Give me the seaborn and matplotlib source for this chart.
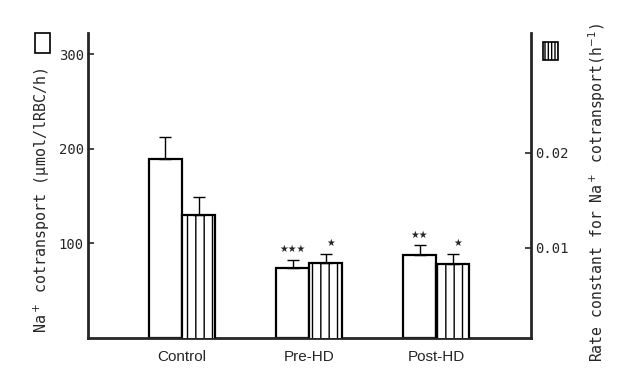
import numpy as np
import pandas as pd
import matplotlib
matplotlib.use("Agg")
import matplotlib.pyplot as plt
from matplotlib.patches import Rectangle
import seaborn as sns

groups = ["Control", "Pre-HD", "Post-HD"]
transport = [189, 74, 88]          # umol/lRBC/h
transport_sem = [24, 9, 10]
rate = [0.0135, 0.0084, 0.0083]    # h^-1
rate_sem = [0.0018, 0.0010, 0.0011]
transport_stars = ["", "\u2605\u2605\u2605", "\u2605\u2605"]
rate_stars = ["", "\u2605", "\u2605"]
series_order = ["transport", "rate"]

sns.set_style("ticks")
plt.rcParams["font.family"] = ["Liberation Sans", "DejaVu Sans"]
plt.rcParams["hatch.linewidth"] = 1.0
mono = "DejaVu Sans Mono"

fig = plt.figure(figsize=(6.33, 3.70), dpi=100)
ax = fig.add_axes([0.139, 0.0865, 0.700, 0.825])
ax2 = ax.twinx()

df = pd.concat([
    pd.DataFrame({"group": groups, "value": transport, "series": "transport"}),
    pd.DataFrame({"group": groups, "value": rate, "series": "rate"}),
], ignore_index=True)
pal = {"transport": "white", "rate": "white"}

# draw the full dodged layout on both axes, then keep only the series that
# belongs to each axis (left bar of a pair = transport, right bar = rate)
for axis, keep in [(ax, 0), (ax2, 1)]:
    sns.barplot(data=df, x="group", y="value", hue="series", hue_order=series_order,
                order=groups, width=0.52, gap=0, palette=pal, edgecolor="black",
                linewidth=1.6, errorbar=None, legend=False, saturation=1, ax=axis)
    bars = sorted(axis.patches, key=lambda p: p.get_x())
    for i, p in enumerate(bars):
        if i % 2 != keep:
            p.remove()

for p in ax2.patches:
    p.set_hatch("||")

# error bars (upper only) and significance stars
for axis, sems, stars, dx in [(ax, transport_sem, transport_stars, 0),
                              (ax2, rate_sem, rate_stars, 4)]:
    bars = sorted(axis.patches, key=lambda p: p.get_x())
    for p, sem, st in zip(bars, sems, stars):
        x = p.get_x() + p.get_width() / 2
        h = p.get_height()
        axis.errorbar(x, h, yerr=[[0], [sem]], fmt="none", ecolor="black",
                      elinewidth=1.0, capsize=4, capthick=1.0)
        if st:
            axis.annotate(st, (x, h + sem), xytext=(dx, 4), textcoords="offset points",
                          ha="center", va="bottom", fontsize=7, family="DejaVu Sans")

ax.set_ylim(0, 323)
ax.set_yticks([100, 200, 300])
ax2.set_ylim(0.00053, 0.0326)
ax2.set_yticks([0.01, 0.02])
ax2.set_yticklabels(["0.01", "0.02"])
ax.set_xlim(-0.74, 2.748)

for s in ["top", "right"]:
    ax.spines[s].set_visible(False)
for s in ["top", "left", "bottom"]:
    ax2.spines[s].set_visible(False)
ax.spines["left"].set_linewidth(2)
ax.spines["bottom"].set_linewidth(2)
ax2.spines["right"].set_linewidth(2)

ax.tick_params(axis="y", direction="in", length=4, width=1.2, labelsize=10, pad=3)
ax2.tick_params(axis="y", direction="in", length=4, width=1.2, labelsize=10, pad=3)
ax.tick_params(axis="x", length=0, pad=9, labelsize=11)
for lab in ax.get_yticklabels() + ax2.get_yticklabels():
    lab.set_family(mono)

ax.set_xlabel("")
ax.set_ylabel("")
ax2.set_ylabel("")
fig.text(42 / 633, 1 - 200 / 370, "Na$^+$ cotransport (\u03bcmol/lRBC/h)", family=mono,
         fontsize=10.8, rotation=90, ha="center", va="center")
fig.text(597 / 633, 1 - 193 / 370, "Rate constant for Na$^+$ cotransport(h$^{-1}$)",
         family=mono, fontsize=10.6, rotation=90, ha="center", va="center")

# legend squares beside each axis
fig.add_artist(Rectangle((0.0553, 0.857), 0.0237, 0.054, transform=fig.transFigure,
                         facecolor="white", edgecolor="black", linewidth=1.2))
fig.add_artist(Rectangle((0.858, 0.838), 0.0237, 0.0486, transform=fig.transFigure,
                         facecolor="white", edgecolor="black", linewidth=1.2, hatch="|||||"))

fig.savefig("out.png", dpi=100)
